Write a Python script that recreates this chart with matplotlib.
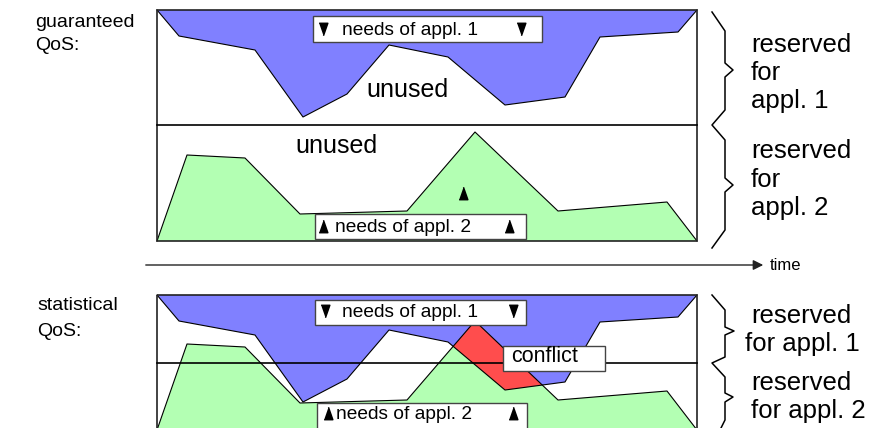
import matplotlib
matplotlib.use('Agg')
import matplotlib.pyplot as plt
import numpy as np
from matplotlib.patches import Polygon, Rectangle

plt.rcParams['font.family'] = ['Liberation Sans', 'DejaVu Sans']

# drawing is laid out in pixel units: x to the right, y downwards
box_left, box_right = 157, 697

# needs of appl. 1 (blue): depth below the top of a panel
blue_x = [157, 179, 255, 303, 347, 389, 448, 505, 565, 600, 678, 697]
blue_depth = [0, 26, 40, 107, 84, 35, 47, 95, 87, 27, 22, 0]

# needs of appl. 2 (green): height above the bottom of a panel
green_x = [157, 187, 245, 300, 407, 475, 558, 667, 697]
green_height = [0, 86, 83, 27, 30, 109, 30, 39, 0]

# panels: top edge, reservation border, bottom edge
panel_top = [10, 295]
panel_split = [125, 363]
panel_bottom = [241, 430]

# label boxes (x0, x1, y0, y1), triangle x positions, text x and baseline
need1_box = [(313, 542, 16, 42), (315, 526, 300, 325)]
need1_tri = [(323, 521), (325, 513)]
need1_text = [(342, 35), (342, 317)]
need2_box = [(315, 526, 214, 239), (317, 527, 403, 445)]
need2_tri = [(323, 509), (328, 513)]
need2_text = [(335, 232), (336, 419)]

brace_top = [(712, 12), (725, 31), (725, 63), (733, 70), (725, 77), (725, 110),
             (712, 125), (725, 140), (725, 178), (733, 185), (725, 192),
             (725, 230), (712, 248)]
brace_bottom = [(712, 295), (725, 310), (725, 327), (734, 331), (725, 335),
                (725, 357), (712, 363), (725, 377), (725, 393), (733, 397),
                (725, 402), (725, 420), (719, 432)]

blue_c = '#8080ff'
green_c = '#b3ffb3'
red_c = '#ff4d4d'

fig = plt.figure(figsize=(8.83, 4.28), dpi=100)
ax = fig.add_axes([0, 0, 1, 1])
ax.set_xlim(0, 883)
ax.set_ylim(428, 0)
ax.axis('off')

tri_down = [(-3.5, 5), (3.5, 5), (0, -5)]
tri_up = [(-3.5, -5), (3.5, -5), (0, 5)]

for p in range(2):
    top, split, bot = panel_top[p], panel_split[p], panel_bottom[p]
    by = np.array([top + d for d in blue_depth])
    gy = np.array([bot - h for h in green_height])

    ax.add_patch(Polygon(list(zip(blue_x, by)), closed=True, fc=blue_c, ec='none', zorder=1))
    ax.add_patch(Polygon(list(zip(green_x, gy)), closed=True, fc=green_c, ec='none', zorder=2))

    # conflict: green reaches higher than the blue bottom edge
    xs = np.array(sorted(set(blue_x + green_x)), dtype=float)
    bi = np.interp(xs, blue_x, by)
    gi = np.interp(xs, green_x, gy)
    ax.fill_between(xs, gi, bi, where=gi < bi, interpolate=True,
                    facecolor=red_c, edgecolor='none', zorder=3)

    ax.plot(blue_x, by, color='black', lw=0.8, zorder=4)
    ax.plot(green_x, gy, color='black', lw=0.8, zorder=4)

    ax.add_patch(Rectangle((box_left, top), box_right - box_left, bot - top,
                           fill=False, ec='#222222', lw=1.2, zorder=5))
    ax.plot([box_left, box_right], [split, split], color='black', lw=1.2, zorder=5)

    for boxes, tris, txt, lab, mk in [(need1_box, need1_tri, need1_text, 'needs of appl. 1', tri_down),
                                      (need2_box, need2_tri, need2_text, 'needs of appl. 2', tri_up)]:
        x0, x1, y0, y1 = boxes[p]
        ax.add_patch(Rectangle((x0, y0), x1 - x0, y1 - y0, fc='white',
                               ec='#444444', lw=1, zorder=6))
        ax.plot(tris[p], [txt[p][1] - 6] * 2, ls='none', marker=mk, ms=9,
                color='black', zorder=7)
        ax.text(txt[p][0], txt[p][1], lab, fontsize=13.8, va='baseline', zorder=7)

# lone triangle inside the green peak
ax.plot([463], [193], ls='none', marker=tri_up, ms=9, color='black', zorder=7)

ax.text(407, 97, 'unused', fontsize=18, ha='center', va='baseline', zorder=7)
ax.text(295, 153, 'unused', fontsize=18, va='baseline', zorder=7)

ax.add_patch(Rectangle((503, 346), 102, 25, fc='white', ec='#444444', lw=1, zorder=6))
ax.text(511, 362, 'conflict', fontsize=15.5, va='baseline', zorder=7)

# braces
for br in [brace_top, brace_bottom]:
    ax.plot([b[0] for b in br], [b[1] for b in br], color='black', lw=1.1, zorder=5)

for txt, y in [('reserved', 52), ('for', 80), ('appl. 1', 108),
               ('reserved', 158), ('for', 187), ('appl. 2', 215)]:
    ax.text(751, y, txt, fontsize=18.5, va='baseline')
ax.text(751, 323, 'reserved', fontsize=18.5, va='baseline')
ax.text(745, 351, 'for appl. 1', fontsize=18.5, va='baseline')
ax.text(751, 390, 'reserved', fontsize=18.5, va='baseline')
ax.text(751, 418, 'for appl. 2', fontsize=18.5, va='baseline')

# left labels
ax.text(35, 27, 'guaranteed', fontsize=14, va='baseline')
ax.text(35, 50, 'QoS:', fontsize=14, va='baseline')
ax.text(37, 310, 'statistical', fontsize=14, va='baseline')
ax.text(37, 336, 'QoS:', fontsize=14, va='baseline')

# time axis
ax.annotate('', xy=(766, 265), xytext=(143, 265),
            arrowprops=dict(arrowstyle='-|>', color='#222222', lw=1, mutation_scale=15))
ax.text(770, 265, 'time', fontsize=12, va='center')

fig.savefig('out.png', dpi=100)
